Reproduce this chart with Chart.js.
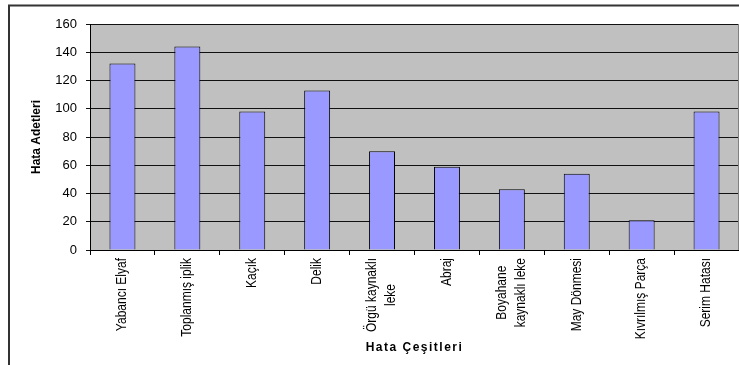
<!DOCTYPE html>
<html>
<head>
<meta charset="utf-8">
<script src="https://cdn.jsdelivr.net/npm/chart.js@4/dist/chart.umd.min.js"></script>
<style>
html,body{margin:0;padding:0;background:#fff;}
#wrap{width:739px;height:365px;position:relative;}
</style>
</head>
<body>
<div id="wrap"><canvas id="c" width="739" height="365"></canvas></div>
<script>
const categories = ["Yabancı Elyaf", "Toplanmış iplik", "Kaçık", "Delik", ["Örgü kaynaklı", "leke"], "Abraj", ["Boyahane", "kaynaklı leke"], "May Dönmesi", "Kıvrılmış Parça", "Serim Hatası"];
const values = [132, 144, 98, 113, 70, 59, 43, 54, 21, 98];
const yMin = 0, yMax = 160, yStep = 20;
const yTitle = "Hata Adetleri";
const xTitle = "Hata Çeşitleri";

const FONT = "'Liberation Sans', Arial, sans-serif";

const framePlugin = {
  id: 'frame',
  beforeDraw(chart) {
    const ctx = chart.ctx, a = chart.chartArea;
    ctx.save();
    ctx.fillStyle = '#fff';
    ctx.fillRect(0, 0, chart.width, chart.height);
    ctx.strokeStyle = '#333';
    ctx.lineWidth = 2;
    ctx.strokeRect(9, 5.5, 900, 500);
    ctx.fillStyle = '#C0C0C0';
    ctx.fillRect(a.left, a.top, a.right - a.left, a.bottom - a.top);
    ctx.restore();
  },
  afterDraw(chart) {
    const ctx = chart.ctx, a = chart.chartArea;
    const xs = chart.scales.x;
    ctx.save();
    ctx.strokeStyle = '#808080';
    ctx.lineWidth = 1;
    ctx.beginPath();
    ctx.moveTo(a.right - 0.5, a.top);
    ctx.lineTo(a.right - 0.5, a.bottom);
    ctx.stroke();
    ctx.fillStyle = '#000';
    ctx.font = '12px ' + FONT;
    ctx.textAlign = 'center';
    ctx.textBaseline = 'middle';
    const topY = 258, lineH = 19;
    categories.forEach((lab, i) => {
      const lines = Array.isArray(lab) ? lab : [lab];
      const maxW = Math.max(...lines.map(l => ctx.measureText(l).width));
      const x = xs.getPixelForValue(i);
      const y0 = topY + maxW / 2;
      ctx.save();
      ctx.translate(x, y0);
      ctx.rotate(-Math.PI / 2);
      ctx.scale(1, 1.15);
      lines.forEach((l, k) => {
        const fy = (k - (lines.length - 1) / 2) * lineH / 1.15;
        ctx.fillText(l, 0, fy);
      });
      ctx.restore();
    });
    ctx.font = 'bold 12px ' + FONT;
    try { ctx.letterSpacing = '1.5px'; } catch (e) {}
    ctx.textAlign = 'center';
    ctx.textBaseline = 'middle';
    ctx.fillText(xTitle, (a.left + a.right) / 2, 348);
    ctx.restore();
  }
};

new Chart(document.getElementById('c'), {
  type: 'bar',
  data: {
    labels: categories,
    datasets: [{
      data: values,
      backgroundColor: '#9999FF',
      borderColor: '#000',
      borderWidth: 1,
      barPercentage: 0.4,
      categoryPercentage: 1.0
    }]
  },
  options: {
    responsive: false,
    animation: false,
    devicePixelRatio: 1,
    layout: { padding: { top: 24, left: 0, right: 0, bottom: 0 } },
    plugins: { legend: { display: false }, tooltip: { enabled: false } },
    scales: {
      x: {
        offset: true,
        grid: { display: true, drawOnChartArea: false, offset: true, tickLength: 5, color: '#000', lineWidth: 1 },
        border: { display: true, color: '#000', width: 1 },
        ticks: { display: false },
        afterFit(s) { s.height = 115; }
      },
      y: {
        min: yMin, max: yMax,
        ticks: { stepSize: yStep, color: '#000', font: { family: FONT, size: 13 }, padding: 9 },
        grid: { color: '#111', lineWidth: 1, tickLength: 4, drawTicks: true },
        border: { display: true, color: '#000', width: 1 },
        title: { display: true, text: yTitle, color: '#000', font: { family: FONT, size: 12, weight: 'bold' }, padding: { top: 29, bottom: 0 } },
        afterFit(s) { s.width = 90; }
      }
    }
  },
  plugins: [framePlugin]
});
</script>
</body>
</html>
